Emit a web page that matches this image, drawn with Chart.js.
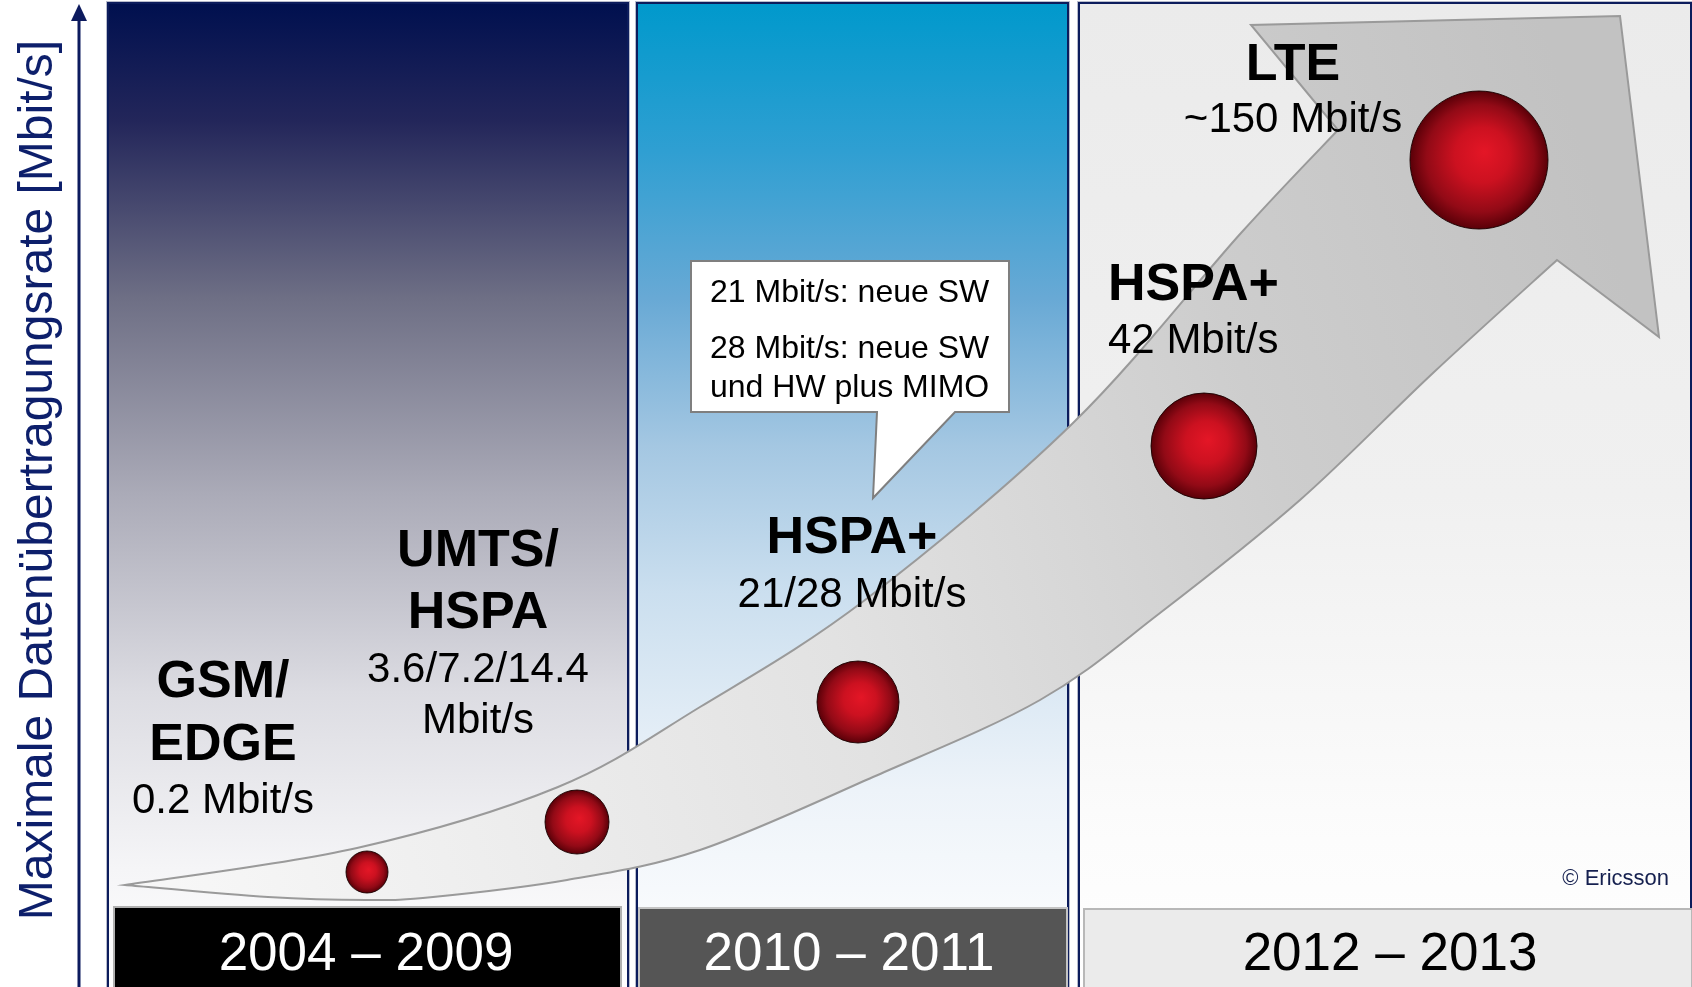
<!DOCTYPE html>
<html><head><meta charset="utf-8">
<script src="https://cdn.jsdelivr.net/npm/chart.js@4"></script>
<style>html,body{margin:0;padding:0;background:#fff;overflow:hidden}canvas{display:block}</style>
</head><body>
<canvas id="c" width="1692" height="987"></canvas>
<script>
// ---------------- data ----------------
const technologies = [['GSM/', 'EDGE'], ['UMTS/', 'HSPA'], ['HSPA+'], ['HSPA+'], ['LTE']];
const peakRates = [['0.2 Mbit/s'], ['3.6/7.2/14.4', 'Mbit/s'], ['21/28 Mbit/s'], ['42 Mbit/s'], ['~150 Mbit/s']];
const timelinePos = [367, 577, 858, 1204, 1479];      // x value of each generation
const rateLevel = [115, 165, 285, 541, 827];          // y value of each generation
const bubbleSize = [21, 32, 41, 53, 69];              // bubble radius
const periods = ['2004 – 2009', '2010 – 2011', '2012 – 2013'];
const calloutLines = ['21 Mbit/s: neue SW', '28 Mbit/s: neue SW', 'und HW plus MIMO'];
const axisTitle = 'Maximale Datenübertragungsrate [Mbit/s]';
const credit = '© Ericsson';
// growth arrow outline (same units as the bubbles)
const arrowUpperX = [125, 357, 558, 700, 865, 1073, 1241, 1338];
const arrowUpperY = [102, 139, 200, 280, 387, 564, 754, 857];
const arrowHeadX = [1338, 1251, 1620, 1659, 1557];
const arrowHeadY = [857, 962, 971, 650, 727];
const arrowLowerX = [1557, 1433, 1300, 1160, 1040, 873, 700, 567, 433, 366, 268, 125];
const arrowLowerY = [727, 614, 487, 374, 287, 210, 137, 107, 90, 87, 90, 102];

// ---------------- layout ----------------
const FONT = '"Liberation Sans", Arial, Helvetica, sans-serif';
const layout = {
  panels: [
    { x0: 108, x1: 628, stops: [[0,'#00104f'],[0.12,'#23265a'],[0.3,'#6e6f85'],[0.5,'#ababb8'],[0.7,'#dcdce2'],[0.88,'#f5f5f7'],[1,'#ffffff']] },
    { x0: 637, x1: 1068, stops: [[0,'#0099cc'],[0.15,'#2f9fd2'],[0.3,'#68a9d5'],[0.45,'#a4c7e2'],[0.6,'#cbdfef'],[0.8,'#edf3f9'],[1,'#ffffff']] },
    { x0: 1079, x1: 1691, stops: [[0,'#ebebeb'],[0.5,'#f0f0f0'],[0.85,'#fcfcfc'],[1,'#ffffff']] }
  ],
  boxes: [
    { x0: 114, x1: 621, y0: 907, fill: '#000000', stroke: '#b0b0b0', text: '#ffffff', cx: 366 },
    { x0: 639, x1: 1067, y0: 908, fill: '#555555', stroke: '#c4c4c4', text: '#ffffff', cx: 849 },
    { x0: 1084, x1: 1692, y0: 909, fill: '#ebebeb', stroke: '#b8b8b8', text: '#000000', cx: 1390 }
  ],
  labels: [
    { x: 223, align: 'center', name: [697, 760], rate: [813] },
    { x: 478, align: 'center', name: [566, 628], rate: [682, 733] },
    { x: 852, align: 'center', name: [553], rate: [607] },
    { x: 1108, align: 'left', name: [300], rate: [353] },
    { x: 1293, align: 'center', name: [80], rate: [132] }
  ]
};

function spline(ctx, pts, move) {
  if (move) ctx.moveTo(pts[0][0], pts[0][1]); else ctx.lineTo(pts[0][0], pts[0][1]);
  for (let i = 0; i < pts.length - 1; i++) {
    const p0 = pts[i - 1] || pts[i], p1 = pts[i], p2 = pts[i + 1], p3 = pts[i + 2] || pts[i + 1];
    ctx.bezierCurveTo(p1[0] + (p2[0] - p0[0]) / 6, p1[1] + (p2[1] - p0[1]) / 6,
                      p2[0] - (p3[0] - p1[0]) / 6, p2[1] - (p3[1] - p1[1]) / 6, p2[0], p2[1]);
  }
}

const infographic = {
  id: 'infographic',
  beforeDraw(chart) {
    const ctx = chart.ctx;
    ctx.save();
    ctx.fillStyle = '#ffffff';
    ctx.fillRect(0, 0, chart.width, chart.height);
    // panels
    layout.panels.forEach(p => {
      const g = ctx.createLinearGradient(0, 3, 0, 987);
      p.stops.forEach(s => g.addColorStop(s[0], s[1]));
      ctx.fillStyle = g;
      ctx.fillRect(p.x0, 3, p.x1 - p.x0, 990);
      ctx.strokeStyle = '#b8bccc';
      ctx.lineWidth = 1;
      ctx.strokeRect(p.x0 - 1.5, 1.5, p.x1 - p.x0 + 3, 995);
      ctx.strokeStyle = '#0c1c5c';
      ctx.lineWidth = 2;
      ctx.strokeRect(p.x0, 3, p.x1 - p.x0, 995);
    });
    // period boxes
    layout.boxes.forEach((b, i) => {
      ctx.fillStyle = b.fill;
      ctx.fillRect(b.x0, b.y0, b.x1 - b.x0, 90);
      ctx.strokeStyle = b.stroke;
      ctx.lineWidth = 2;
      ctx.strokeRect(b.x0, b.y0, b.x1 - b.x0, 90);
      ctx.fillStyle = b.text;
      ctx.font = '53px ' + FONT;
      ctx.textAlign = 'center';
      ctx.textBaseline = 'alphabetic';
      ctx.fillText(periods[i], b.cx, 970);
    });
    // y axis arrow
    ctx.strokeStyle = '#0c1a5e';
    ctx.fillStyle = '#0c1a5e';
    ctx.lineWidth = 3;
    ctx.beginPath(); ctx.moveTo(79, 987); ctx.lineTo(79, 18); ctx.stroke();
    ctx.beginPath(); ctx.moveTo(79, 4); ctx.lineTo(71, 21); ctx.lineTo(87, 21); ctx.closePath(); ctx.fill();
    // axis title
    ctx.save();
    ctx.translate(52, 480);
    ctx.rotate(-Math.PI / 2);
    ctx.font = '48px ' + FONT;
    ctx.fillStyle = '#0d1f6b';
    ctx.textAlign = 'center';
    ctx.fillText(axisTitle, 0, 0);
    ctx.restore();
    ctx.restore();
  },
  beforeDatasetsDraw(chart) {
    const ctx = chart.ctx, sx = chart.scales.x, sy = chart.scales.y;
    const P = (xs, ys) => xs.map((x, i) => [sx.getPixelForValue(x), sy.getPixelForValue(ys[i])]);
    const up = P(arrowUpperX, arrowUpperY), head = P(arrowHeadX, arrowHeadY), low = P(arrowLowerX, arrowLowerY);
    ctx.save();
    ctx.beginPath();
    spline(ctx, up, true);
    head.slice(1).forEach(p => ctx.lineTo(p[0], p[1]));
    spline(ctx, low, false);
    ctx.closePath();
    const g = ctx.createLinearGradient(up[0][0], up[0][1] - 150, head[2][0], head[2][1] + 250);
    g.addColorStop(0, '#f7f7f7');
    g.addColorStop(0.45, '#e2e2e2');
    g.addColorStop(0.75, '#cdcdcd');
    g.addColorStop(1, '#c2c2c2');
    ctx.fillStyle = g;
    ctx.fill();
    ctx.strokeStyle = '#9a9a9a';
    ctx.lineWidth = 2;
    ctx.lineJoin = 'miter';
    ctx.stroke();
    ctx.restore();
  },
  afterDatasetsDraw(chart) {
    const ctx = chart.ctx;
    ctx.save();
    ctx.fillStyle = '#000000';
    ctx.textBaseline = 'alphabetic';
    layout.labels.forEach((l, i) => {
      ctx.textAlign = l.align;
      ctx.font = 'bold 52px ' + FONT;
      technologies[i].forEach((t, k) => ctx.fillText(t, l.x, l.name[k]));
      ctx.font = '42px ' + FONT;
      peakRates[i].forEach((t, k) => ctx.fillText(t, l.x, l.rate[k]));
    });
    // callout
    ctx.beginPath();
    ctx.moveTo(691, 261); ctx.lineTo(1009, 261); ctx.lineTo(1009, 412); ctx.lineTo(955, 412);
    ctx.lineTo(873, 498); ctx.lineTo(877, 412); ctx.lineTo(691, 412); ctx.closePath();
    ctx.fillStyle = '#ffffff'; ctx.fill();
    ctx.strokeStyle = '#7f7f7f'; ctx.lineWidth = 2; ctx.stroke();
    ctx.fillStyle = '#000000';
    ctx.font = '32px ' + FONT;
    ctx.textAlign = 'left';
    [302, 358, 397].forEach((y, k) => ctx.fillText(calloutLines[k], 710, y));
    // credit
    ctx.font = '22px ' + FONT;
    ctx.fillStyle = '#15204f';
    ctx.textAlign = 'right';
    ctx.fillText(credit, 1669, 885);
    ctx.restore();
  }
};

function sphereFill(c) {
  const fallback = '#c81020';
  if (c.type !== 'data' || !c.raw) return fallback;
  const ch = c.chart, raw = c.raw;
  const x = ch.scales.x.getPixelForValue(raw.x), y = ch.scales.y.getPixelForValue(raw.y), r = raw.r;
  if (![x, y, r].every(Number.isFinite) || r <= 0) return fallback;
  const g = ch.ctx.createRadialGradient(x + r * 0.08, y - r * 0.12, 0, x, y, r);
  g.addColorStop(0, '#e41626');
  g.addColorStop(0.4, '#cc1120');
  g.addColorStop(0.78, '#920a16');
  g.addColorStop(1, '#5a0008');
  return g;
}

new Chart(document.getElementById('c'), {
  type: 'bubble',
  data: {
    datasets: [{
      label: 'Generationen',
      data: timelinePos.map((x, i) => ({ x: x, y: rateLevel[i], r: bubbleSize[i] })),
      backgroundColor: sphereFill,
      borderColor: 'rgba(25,0,0,0.9)',
      borderWidth: 1,
      hoverRadius: 0,
      clip: false
    }]
  },
  options: {
    responsive: false,
    animation: false,
    devicePixelRatio: 1,
    events: [],
    layout: { padding: 0, autoPadding: false },
    plugins: { legend: { display: false }, tooltip: { enabled: false } },
    scales: {
      x: { type: 'linear', display: false, min: 0, max: 1692 },
      y: { type: 'linear', display: false, min: 0, max: 987 }
    }
  },
  plugins: [infographic]
});
</script>
</body></html>
